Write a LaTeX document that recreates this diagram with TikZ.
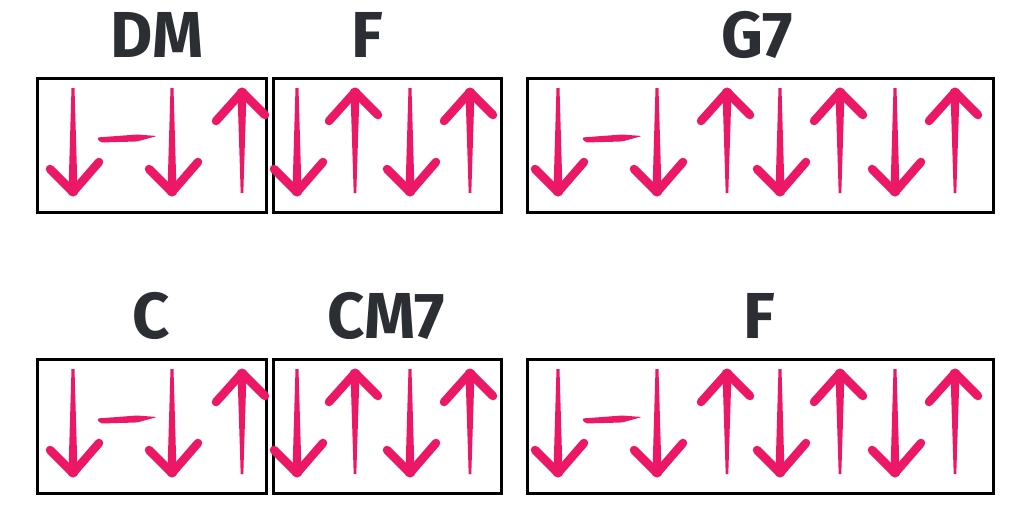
\documentclass[tikz,border=0pt]{standalone}
\usepackage{fontspec}
\setmainfont{Fira Sans}
\usepackage{tikz}
\usetikzlibrary{positioning}
\definecolor{StrumPink}{HTML}{EC1866}
\definecolor{ChordInk}{HTML}{2B2E33}

% one down stroke, one up stroke and the rest mark, at x and row offset
\newcommand{\strokedown}[2]{%
  \fill[beatstem] (#1-1.5,88+#2) -- (#1+1.5,88+#2) -- (#1+4.5,190+#2) -- (#1-4.5,190+#2) -- cycle;
  \draw[beatarm] (#1-23,169+#2) -- (#1,192+#2) -- (#1+26,162+#2);
  \fill[beatstem] (#1,191+#2) circle (5.5pt);}
\newcommand{\strokeup}[2]{%
  \fill[beatstem] (#1-4.5,93+#2) -- (#1+4.5,93+#2) -- (#1+1.3,193+#2) -- (#1-1.3,193+#2) -- cycle;
  \draw[beatarm] (#1-26,121+#2) -- (#1,92+#2) -- (#1+23,115+#2);
  \fill[beatstem] (#1,93+#2) circle (5.5pt);}
\newcommand{\strokerest}[2]{%
  \fill[beatstem,rounded corners=2pt] (#1,137.5+#2) -- (#1+40,134.5+#2) -- (#1+60,136+#2)
    -- (#1+40,141.5+#2) -- (#1+3,142.5+#2) -- cycle;}

\begin{document}
\begin{tikzpicture}[x=1pt,y=-1pt]
  \tikzstyle{barbox}=[draw=black,line width=2.5pt,inner sep=0pt,anchor=north west,
    minimum height=134pt]
  \tikzstyle{chord}=[anchor=base,text=ChordInk,font=\fontsize{65}{65}\selectfont\bfseries]
  \tikzstyle{beatstem}=[fill=StrumPink]
  \tikzstyle{beatarm}=[draw=StrumPink,line width=8.5pt,line cap=round,line join=round]
  \useasboundingbox (0,0) rectangle (1020,512);
  % first line
  \node[barbox,minimum width=229pt] (dmbar) at (36,77) {};
  \node[barbox,minimum width=228pt] (fbar) at (272,77) {};
  \node[barbox,minimum width=466pt] (gbar) at (526,77) {};
  \node[chord] (dm) at (157,57) {DM};
  \node[chord] (f) at (367,57) {F};
  \node[chord] (g) at (757,57) {G7};
  % second line
  \node[barbox,minimum width=229pt] (cbar) at (36,358) {};
  \node[barbox,minimum width=228pt] (cmbar) at (272,358) {};
  \node[barbox,minimum width=466pt] (fendbar) at (526,358) {};
  \node[chord] (c) at (151,338) {C};
  \node[chord] (cm) at (386,338) {CM7};
  \node[chord] (fend) at (759,338) {F};
  % strokes
  \foreach \row in {0,281}{
    \strokedown{73}{\row}
    \strokerest{97}{\row}
    \strokedown{172}{\row}
    \strokeup{242}{\row}
    \foreach \dx in {297,410} {\strokedown{\dx}{\row}}
    \foreach \ux in {355,470} {\strokeup{\ux}{\row}}
    \strokedown{558}{\row}
    \strokerest{582}{\row}
    \foreach \dx in {657,780,895} {\strokedown{\dx}{\row}}
    \foreach \ux in {727,840,955} {\strokeup{\ux}{\row}}
  }
\end{tikzpicture}
\end{document}
